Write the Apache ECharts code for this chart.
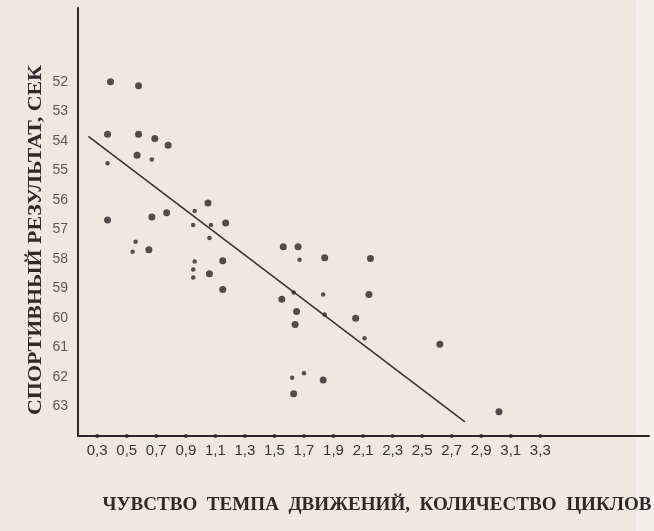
<!DOCTYPE html>
<html>
<head>
<meta charset="utf-8">
<script src="https://cdn.jsdelivr.net/npm/echarts@6/dist/echarts.min.js"></script>
<style>
  html, body { margin: 0; padding: 0; background: #eee8df; }
  #chart { width: 654px; height: 531px; }
</style>
</head>
<body>
<div id="chart"></div>
<script>
// Tick values and their printed labels (decimal comma)
const xTickValues = [0.3, 0.5, 0.7, 0.9, 1.1, 1.3, 1.5, 1.7, 1.9, 2.1, 2.3, 2.5, 2.7, 2.9, 3.1, 3.3];
const xTickLabels = ['0,3', '0,5', '0,7', '0,9', '1,1', '1,3', '1,5', '1,7', '1,9', '2,1', '2,3', '2,5', '2,7', '2,9', '3,1', '3,3'];
const yTickValues = [52, 53, 54, 55, 56, 57, 58, 59, 60, 61, 62, 63];
const yTickLabels = ['52', '53', '54', '55', '56', '57', '58', '59', '60', '61', '62', '63'];

// Athletes: [sense of movement tempo (cycles), sport result (sec)]
const athletesBold = [
  [0.39, 52.0], [0.58, 52.13], [0.37, 53.78], [0.58, 53.78], [0.69, 53.92],
  [0.78, 54.15], [0.57, 54.49], [1.05, 56.11], [0.37, 56.68], [0.67, 56.58],
  [0.77, 56.44], [1.17, 56.78], [0.65, 57.69], [1.15, 58.06], [1.06, 58.5],
  [1.15, 59.04], [1.56, 57.59], [1.66, 57.59], [1.84, 57.96], [2.15, 57.99],
  [1.55, 59.37], [2.14, 59.21], [1.65, 59.78], [1.64, 60.22], [2.05, 60.01],
  [2.62, 60.89], [1.83, 62.1], [1.63, 62.57], [3.02, 63.18]
];
const athletesFaint = [
  [0.37, 54.76], [0.67, 54.63], [0.96, 56.38], [0.95, 56.85], [1.07, 56.85],
  [1.06, 57.29], [0.56, 57.42], [0.54, 57.76], [0.96, 58.09], [0.95, 58.36],
  [0.95, 58.63], [1.67, 58.03], [1.63, 59.14], [1.83, 59.21], [1.84, 59.88],
  [2.11, 60.69], [1.62, 62.03], [1.7, 61.87]
];

// Fitted regression line endpoints
const trendLine = [[0.24, 53.85], [2.79, 63.52]];

const X_MIN = 0.17, X_MAX = 4.036, Y_MIN = 49.5, Y_MAX = 64;

const ink = '#2c2624';
const labelFont = '"Liberation Sans Narrow", "Liberation Sans", sans-serif';
const titleFont = 'bold 18px "Liberation Serif", "DejaVu Serif", serif';

// Stretch a title so that it spans a given length
function fitScale(text, font, target) {
  const ctx = document.createElement('canvas').getContext('2d');
  ctx.font = font;
  return target / ctx.measureText(text).width;
}

const yTitle = 'СПОРТИВНЫЙ РЕЗУЛЬТАТ, СЕК';
const xTitle = 'ЧУВСТВО  ТЕМПА  ДВИЖЕНИЙ,  КОЛИЧЕСТВО  ЦИКЛОВ';

const chart = echarts.init(document.getElementById('chart'), null, { renderer: 'canvas' });

chart.setOption({
  backgroundColor: '#eee8df',
  animation: false,
  grid: { left: 78, right: 5, top: 8, bottom: 95 },
  xAxis: {
    type: 'value',
    min: X_MIN,
    max: X_MAX,
    splitLine: { show: false },
    axisLine: { show: true, lineStyle: { color: ink, width: 2 } },
    axisTick: { show: false },
    axisLabel: {
      customValues: xTickValues,
      formatter: v => {
        const i = xTickValues.findIndex(t => Math.abs(t - v) < 1e-6);
        return i >= 0 ? xTickLabels[i] : '';
      },
      color: '#3a3432',
      fontSize: 15,
      fontFamily: labelFont,
      margin: 7
    }
  },
  yAxis: {
    type: 'value',
    inverse: true,
    min: Y_MIN,
    max: Y_MAX,
    splitLine: { show: false },
    axisLine: { show: true, lineStyle: { color: ink, width: 2 } },
    axisTick: { show: false },
    axisLabel: {
      customValues: yTickValues,
      formatter: v => {
        const i = yTickValues.findIndex(t => Math.abs(t - v) < 1e-6);
        return i >= 0 ? yTickLabels[i] : '';
      },
      color: '#5d5754',
      fontSize: 14,
      fontFamily: labelFont,
      margin: 10
    }
  },
  graphic: [
    {
      type: 'rect',
      silent: true,
      z: -10,
      shape: { x: 636, y: 0, width: 18, height: 531 },
      style: { fill: '#f3efea' }
    },
    {
      type: 'text',
      x: 36,
      y: 240,
      rotation: Math.PI / 2,
      scaleX: fitScale(yTitle, titleFont, 350),
      style: {
        text: yTitle,
        font: titleFont,
        fill: '#2f2927',
        textAlign: 'center',
        textVerticalAlign: 'middle',
        align: 'center',
        verticalAlign: 'middle'
      }
    },
    {
      type: 'text',
      x: 377,
      y: 505,
      scaleX: fitScale(xTitle, titleFont, 549),
      style: {
        text: xTitle,
        font: titleFont,
        fill: '#2f2927',
        textAlign: 'center',
        textVerticalAlign: 'middle',
        align: 'center',
        verticalAlign: 'middle'
      }
    }
  ],
  series: [
    {
      name: 'regression',
      type: 'line',
      data: trendLine,
      symbol: 'none',
      lineStyle: { color: '#3a3331', width: 1.6 },
      z: 2
    },
    {
      name: 'axis dots',
      type: 'scatter',
      data: xTickValues.map(v => [v, Y_MAX]),
      symbol: 'circle',
      symbolSize: 4,
      itemStyle: { color: ink },
      z: 4
    },
    {
      name: 'athletes',
      type: 'scatter',
      data: athletesBold,
      symbol: 'circle',
      symbolSize: 7,
      itemStyle: { color: '#2a2422' },
      z: 3
    },
    {
      name: 'athletes (light)',
      type: 'scatter',
      data: athletesFaint,
      symbol: 'circle',
      symbolSize: 4.5,
      itemStyle: { color: '#2e2826' },
      z: 3
    }
  ]
});
</script>
</body>
</html>
